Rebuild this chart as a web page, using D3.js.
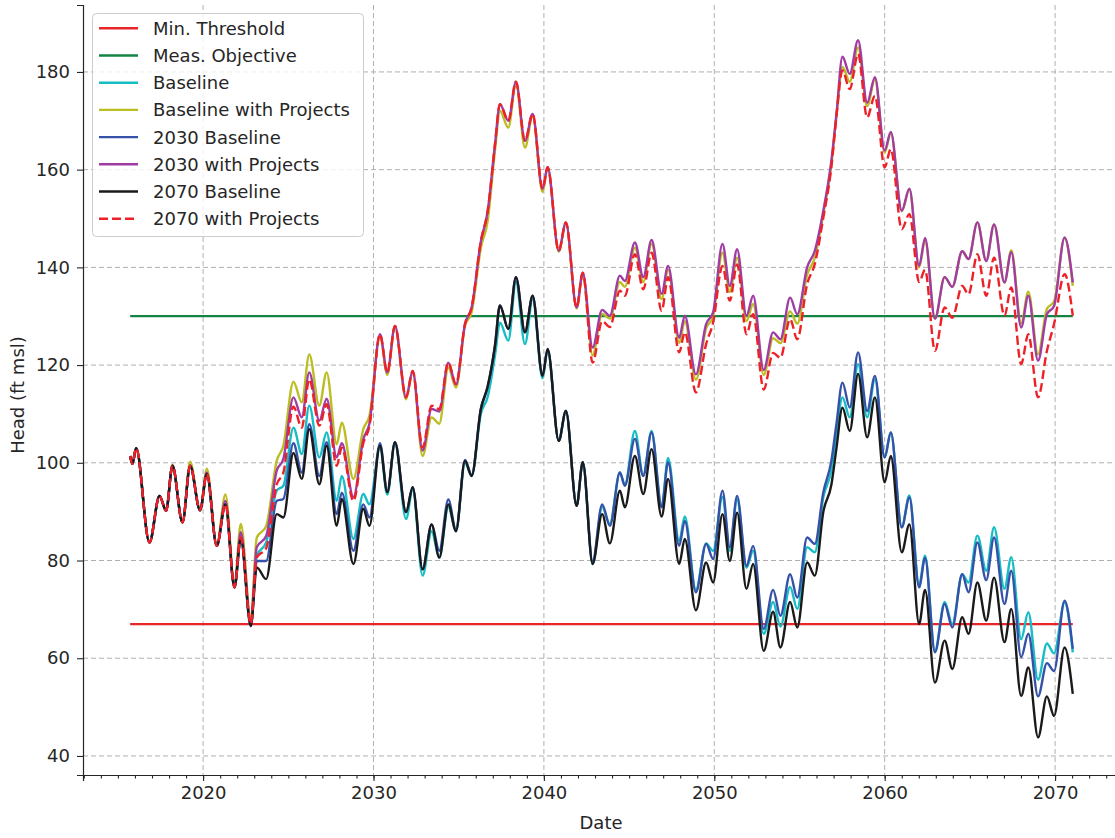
<!DOCTYPE html>
<html>
<head>
<meta charset="utf-8">
<script src="https://cdn.jsdelivr.net/npm/d3@7"></script>
<style>
  body { margin: 0; background: #fff; }
  svg { display: block; font-family: "DejaVu Sans", sans-serif; }
</style>
</head>
<body>
<script>
// sample times (decimal years, at the seasonal peaks / troughs)
const dates = [
  2015.72, 2015.85, 2016.07, 2016.85, 2017.44, 2017.83, 2018.2, 2018.79, 2019.24, 2019.82,
  2020.22, 2020.8, 2021.31, 2021.84, 2022.21, 2022.8, 2023.15, 2023.7, 2024.32, 2024.71,
  2025.3, 2025.79, 2026.23, 2026.82, 2027.25, 2027.84, 2028.14, 2028.82, 2029.4, 2029.76,
  2030.38, 2030.81, 2031.26, 2031.91, 2032.3, 2032.88, 2033.41, 2033.86, 2034.39, 2034.84,
  2035.37, 2035.76, 2036.3, 2036.7, 2037.13, 2037.42, 2037.91, 2038.36, 2038.89, 2039.34,
  2039.92, 2040.22, 2040.87, 2041.29, 2041.92, 2042.28, 2042.86, 2043.42, 2043.87, 2044.46,
  2044.75, 2045.34, 2045.83, 2046.32, 2046.91, 2047.29, 2047.94, 2048.27, 2048.92, 2049.52,
  2049.93, 2050.48, 2050.91, 2051.34, 2051.89, 2052.28, 2052.9, 2053.45, 2053.88, 2054.45,
  2054.87, 2055.45, 2055.9, 2056.4, 2056.87, 2057.17, 2057.52, 2057.95, 2058.44, 2058.97,
  2059.43, 2060.0, 2060.36, 2061.0, 2061.45, 2062.02, 2062.37, 2062.95, 2063.52, 2063.97,
  2064.55, 2064.92, 2065.44, 2065.96, 2066.42, 2067.03, 2067.43, 2068.01, 2068.43, 2069.0,
  2069.52, 2069.94, 2070.56, 2071.04
];

const baseline = [
  101.4, 99.8, 103, 83.7, 93.2, 90.2, 99.4, 87.8, 99.4, 90.3,
  97.7, 83, 91.5, 74.5, 84.7, 67, 81, 83.7, 94.3, 95.3,
  107.2, 101.8, 111.7, 101.1, 106.2, 92.2, 97.3, 84.4, 93.6, 91.5,
  103, 93.5, 104, 88.5, 94.5, 76.9, 86, 80.6, 91, 86,
  100, 97.3, 110, 113.5, 122, 128.7, 125, 137, 124.3, 133.5,
  117.3, 123, 104.5, 110.6, 91.2, 100.1, 79.3, 91, 87.5, 98,
  95.5, 106.5, 97.5, 106.5, 91, 101, 84, 89, 74, 83.5,
  82, 93, 82, 92.5, 78.5, 82, 65, 71.5, 66.5, 74.6,
  70.1, 82.7, 81.7, 93, 98.5, 106, 113.4, 109.3, 120.2, 109.3,
  117.1, 101.1, 106.2, 86.8, 93.3, 75, 81, 61.5, 71.5, 67,
  77.2, 75.5, 85.1, 77.9, 86.8, 74.2, 80.7, 63.9, 69.4, 55.6,
  63, 61, 71.4, 61.2
];

const baselineProjects = [
  101.4, 99.8, 103, 83.7, 93.2, 90.2, 99.6, 87.8, 100.2, 90.3,
  98.8, 83.2, 93.5, 75, 87.5, 68, 84.7, 87, 100.4, 103.5,
  116.6, 112.4, 122.2, 111.7, 118.5, 103.8, 108.2, 96.7, 106.9, 109.6,
  126, 118, 127.8, 113, 118.5, 101.4, 109.3, 108, 119.5, 115.4,
  128, 130.8, 144, 149.5, 164, 172, 168.6, 177.5, 164.5, 171,
  155.4, 160.3, 143.2, 149, 131.6, 138.7, 122, 130.5, 129.5, 137,
  136, 144, 137, 144.8, 133.5, 139.5, 124.5, 129, 117, 127.5,
  130, 143, 135, 142, 129, 132.5, 118, 125.5, 124.5, 131,
  128.5, 138.5, 142, 151, 161, 171, 181, 178, 185, 173,
  178.5, 163.5, 167.5, 151.5, 156, 140, 145.5, 129.5, 138, 136,
  143.3, 141.7, 149.2, 141.3, 148.8, 136.9, 143.5, 128.5, 135, 122.2,
  131.5, 133, 146, 136.2
];

const baseline2030 = [
  101.4, 99.8, 103, 83.7, 93.2, 90.2, 99.4, 87.8, 99.4, 90.3,
  97.7, 83, 91.5, 74.5, 84.5, 66.6, 79.9, 79.9, 92.2, 92.6,
  104, 98, 107.9, 97.3, 104.2, 89.5, 93.9, 82, 91.5, 88.8,
  104, 94, 104.2, 89.9, 95, 78.2, 87.4, 82, 92.5, 86.3,
  100.6, 97.5, 111, 115.6, 124, 132.2, 127.4, 138, 126.7, 134.2,
  117.8, 123.3, 104.5, 110.6, 91.2, 100.1, 79.8, 91.5, 87.1, 98,
  95.3, 104.9, 97.3, 106.2, 90.9, 100.1, 83, 88.1, 73.5, 83.4,
  80.3, 94.3, 82.7, 93.2, 78.9, 83, 66, 74, 68.7, 77.2,
  72.4, 84.7, 83.4, 94, 100.4, 108, 116.4, 111.3, 122.6, 110.6,
  117.8, 101.1, 106.2, 86.8, 92.9, 74.5, 80.5, 61.2, 71.1, 66.3,
  77.2, 73.5, 83.7, 76, 84.7, 71.1, 77.9, 60.2, 65, 52.2,
  59, 57.4, 71.8, 61.9
];

const projects2030 = [
  101.4, 99.8, 103, 83.7, 93.2, 90.2, 99.4, 87.8, 99.4, 90.3,
  98, 83, 92.2, 74.6, 85.8, 67.3, 82.7, 85, 98.4, 100.8,
  113.4, 109.3, 118.5, 108.6, 113.1, 101.1, 104, 93, 104.8, 108,
  126.3, 118.5, 128, 113.4, 118.8, 102.5, 111, 110.5, 120.5, 116,
  128.4, 131.8, 145.3, 151.5, 165.2, 173.4, 170, 178, 165.9, 171.4,
  156.1, 160.5, 143.4, 149.2, 131.8, 138.9, 123.6, 131.3, 130.1, 138.3,
  137.2, 145.1, 138, 145.6, 134.6, 140.3, 125.6, 130.1, 118.1, 128.4,
  130.8, 144.8, 136.2, 143.7, 130.1, 134.2, 119, 126.7, 125.3, 133.8,
  130.4, 140, 143.4, 151.6, 161.8, 171.4, 183.1, 179.6, 186.5, 173.7,
  178.9, 163.9, 167.7, 151.6, 156.1, 140.3, 146, 129.5, 138, 136,
  143.3, 141.7, 149.2, 141.3, 148.8, 136.9, 143.1, 127.7, 134.2, 120.9,
  130.4, 132.1, 146.1, 136.9
];

const baseline2070 = [
  101.4, 99.8, 103, 83.7, 93.2, 90.2, 99.4, 87.8, 99.4, 90.3,
  97.7, 83, 91.5, 74.5, 84.5, 66.6, 78.6, 76.2, 89.5, 88.8,
  102, 96.7, 106.9, 95.6, 103.5, 87.1, 92.6, 79.3, 90.6, 87.1,
  103.5, 94, 104.2, 89.9, 95, 78.2, 87.4, 80.6, 91.5, 86,
  100.4, 97.3, 111, 115.6, 124, 132.2, 127.4, 138, 126.7, 134.2,
  117.8, 123.3, 104.5, 110.6, 91.2, 100.1, 79.3, 89.5, 83.5, 94.3,
  90.9, 101.4, 93.6, 102.8, 89, 96.7, 79.3, 84.4, 69.8, 79.6,
  75.5, 89.5, 79.9, 89.8, 74.2, 79.3, 61.5, 69.5, 62.2, 71.5,
  66.3, 79.6, 76.9, 90, 95.5, 103, 111.3, 106.5, 118.2, 105.2,
  113.4, 96, 101.4, 81.7, 87.4, 67, 74, 55, 63.6, 57.8,
  68.4, 65, 75.5, 67.7, 76.5, 63.3, 70.1, 52.3, 58.1, 43.8,
  52.2, 48.2, 62.2, 52.7
];

const projects2070 = [
  101.4, 99.8, 103, 83.7, 93.2, 90.2, 99.4, 87.8, 99.4, 90.3,
  97.7, 83, 91.5, 74.5, 84.7, 67, 80.6, 82.5, 95.6, 98,
  111.5, 107.2, 117.1, 107.6, 112, 99.4, 103.1, 92.2, 104, 107.5,
  126.3, 118.5, 128, 113.4, 118.8, 103.1, 111.7, 111, 120.5, 116.1,
  128.4, 131.8, 145.3, 151.5, 165.2, 173.4, 170, 178, 165.9, 171.4,
  156.1, 160.5, 143.4, 149.2, 131.8, 138.9, 120.5, 129, 127.8, 135.2,
  134.2, 142.7, 135.5, 143, 131.1, 138, 122.6, 126.7, 114.4, 124.3,
  128.7, 140.3, 133.2, 140.6, 126.3, 130.4, 115, 122.5, 121.5, 129.4,
  125.3, 136.6, 140.7, 150.2, 160.5, 171, 180.3, 176.5, 183.7, 170.7,
  175.1, 160.5, 164.2, 147.8, 150.9, 137, 139.5, 122.9, 131.8, 129.7,
  136.2, 134.5, 142.7, 134.2, 142, 130.1, 135.9, 120.2, 126.3, 113.4,
  122.9, 128.4, 138.6, 130.1
];

const minThreshold = 67;
const measObjective = 130;

const yTicks = [40, 60, 80, 100, 120, 140, 160, 180];

// legend / draw order
const series = [
  { name: "Baseline", values: baseline, color: "#17bdc4" },
  { name: "Baseline with Projects", values: baselineProjects, color: "#bcbd22" },
  { name: "2030 Baseline", values: baseline2030, color: "#3552a8" },
  { name: "2030 with Projects", values: projects2030, color: "#a03ca4" },
  { name: "2070 Baseline", values: baseline2070, color: "#1a1a1a" },
  { name: "2070 with Projects", values: projects2070, color: "#ec2228", dash: "9,4" }
];

const width = 1115;
const height = 838;
const plot = { left: 83, right: 1120, top: 5, bottom: 775 };
const ink = "#262626";

function toDate(y) {
  const yr = Math.floor(y);
  const start = new Date(yr, 0, 1);
  const end = new Date(yr + 1, 0, 1);
  return new Date(+start + (y - yr) * (end - start));
}

const x = d3.scaleTime()
  .domain([toDate(2012.95), toDate(2073.81)])
  .range([plot.left, plot.right]);

const y = d3.scaleLinear()
  .domain([36.1, 193.7])
  .range([plot.bottom, plot.top]);

const svg = d3.select("body")
  .append("svg")
  .attr("width", width)
  .attr("height", height);

// grid
const grid = svg.append("g")
  .attr("stroke", "#b0b0b0")
  .attr("stroke-width", 1)
  .attr("stroke-dasharray", "5,3");

grid.selectAll("line.gx")
  .data(x.ticks(d3.timeYear.every(10)))
  .enter().append("line")
  .attr("x1", d => x(d)).attr("x2", d => x(d))
  .attr("y1", plot.top).attr("y2", plot.bottom);

grid.selectAll("line.gy")
  .data(yTicks)
  .enter().append("line")
  .attr("x1", plot.left).attr("x2", plot.right)
  .attr("y1", d => y(d)).attr("y2", d => y(d));

// threshold lines
const span = [toDate(dates[0]), toDate(dates[dates.length - 1])];
svg.append("line")
  .attr("x1", x(span[0])).attr("x2", x(span[1]))
  .attr("y1", y(minThreshold)).attr("y2", y(minThreshold))
  .attr("stroke", "#e8262a").attr("stroke-width", 2.2);
svg.append("line")
  .attr("x1", x(span[0])).attr("x2", x(span[1]))
  .attr("y1", y(measObjective)).attr("y2", y(measObjective))
  .attr("stroke", "#148443").attr("stroke-width", 2.2);

const line = d3.line()
  .x((d, i) => x(toDate(dates[i])))
  .y(d => y(d))
  .curve(d3.curveMonotoneX);

series.forEach(s => {
  svg.append("path")
    .datum(s.values)
    .attr("d", line)
    .attr("fill", "none")
    .attr("stroke", s.color)
    .attr("stroke-width", 2.4)
    .attr("stroke-linejoin", "round")
    .attr("stroke-dasharray", s.dash || null);
});

// axes
const xAxis = svg.append("g")
  .attr("transform", `translate(0,${plot.bottom})`)
  .call(d3.axisBottom(x)
    .ticks(d3.timeYear.every(10))
    .tickFormat(d3.timeFormat("%Y"))
    .tickSize(6).tickPadding(5));

svg.append("g")
  .attr("transform", `translate(0,${plot.bottom})`)
  .call(d3.axisBottom(x)
    .ticks(d3.timeYear.every(1))
    .tickFormat("")
    .tickSize(3.5))
  .call(g => g.select(".domain").remove());

const yAxis = svg.append("g")
  .attr("transform", `translate(${plot.left},0)`)
  .call(d3.axisLeft(y).tickValues(yTicks).tickSize(6).tickPadding(7));

[xAxis, yAxis].forEach(g => {
  g.selectAll("text").attr("font-size", 18).attr("fill", ink)
    .attr("font-family", "DejaVu Sans");
  g.select(".domain").attr("stroke", ink).attr("stroke-width", 1.2);
});
svg.selectAll(".tick line").attr("stroke", ink).attr("stroke-width", 1.1);

svg.append("text")
  .attr("x", 601).attr("y", 829)
  .attr("text-anchor", "middle")
  .attr("font-size", 18).attr("fill", ink)
  .text("Date");

svg.append("text")
  .attr("transform", "translate(24,395) rotate(-90)")
  .attr("text-anchor", "middle")
  .attr("font-size", 18).attr("fill", ink)
  .text("Head (ft msl)");

// legend
const legendItems = [
  { name: "Min. Threshold", color: "#e8262a" },
  { name: "Meas. Objective", color: "#148443" }
].concat(series);

const legend = svg.append("g");
legend.append("rect")
  .attr("x", 92.5).attr("y", 13.5)
  .attr("width", 271).attr("height", 223)
  .attr("rx", 4)
  .attr("fill", "#fff").attr("fill-opacity", 0.8)
  .attr("stroke", "#cccccc");

const rows = legend.selectAll("g.row")
  .data(legendItems)
  .enter().append("g")
  .attr("transform", (d, i) => `translate(0,${28.3 + i * 27.2})`);

rows.append("line")
  .attr("x1", 99).attr("x2", 138)
  .attr("stroke", d => d.color)
  .attr("stroke-width", 2.4)
  .attr("stroke-dasharray", d => d.dash || null);

rows.append("text")
  .attr("x", 153).attr("y", 6.5)
  .attr("font-size", 18).attr("fill", ink)
  .text(d => d.name);
</script>
</body>
</html>
